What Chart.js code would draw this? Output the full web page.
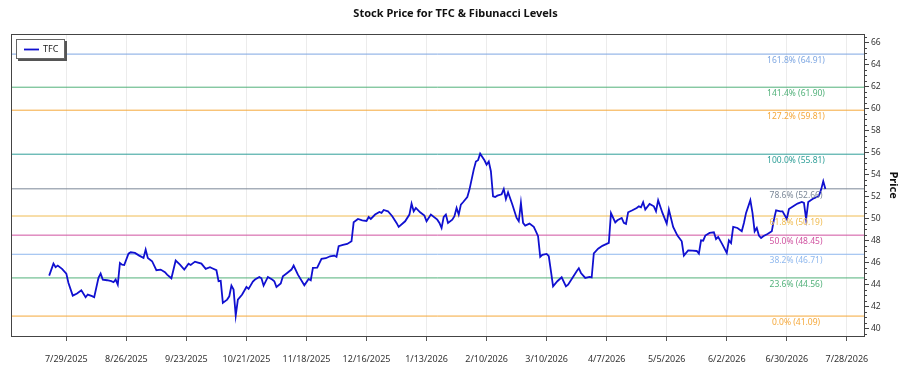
<!DOCTYPE html>
<html>
<head>
<meta charset="utf-8">
<script src="https://cdn.jsdelivr.net/npm/chart.js@4.4.1/dist/chart.umd.min.js"></script>
<style>
  html, body { margin: 0; padding: 0; background: #fff; }
  #wrap { width: 900px; height: 375px; }
</style>
</head>
<body>
<div id="wrap"><canvas id="chart" width="900" height="375"></canvas></div>
<script>
// Days counted from 7/29/2025, and TFC closing prices
const days = [
  -8, -6, -5, -4, -2, 0, 1, 3, 5, 7, 9, 10, 12, 13, 15, 16, 17, 19, 21, 22,
  23, 24, 25, 26, 27, 29, 30, 32, 34, 36, 37, 38, 40, 42, 44, 46, 47, 49, 51, 53,
  55, 57, 58, 60, 61, 63, 65, 67, 68, 70, 71, 72, 73, 75, 76, 77, 78, 79, 80, 82,
  84, 85, 87, 88, 90, 91, 92, 94, 96, 97, 98, 100, 101, 103, 105, 106, 108, 111, 113, 114,
  115, 117, 119, 121, 123, 125, 126, 127, 129, 131, 133, 134, 136, 138, 140, 141, 142, 144, 146, 147,
  148, 150, 152, 154, 155, 158, 160, 161, 162, 163, 165, 167, 168, 170, 173, 174, 175, 176, 177, 178,
  180, 181, 182, 183, 184, 185, 187, 188, 190, 191, 192, 193, 194, 195, 196, 197, 198, 199, 200, 201,
  203, 204, 205, 206, 208, 210, 211, 212, 213, 214, 216, 218, 219, 220, 221, 222, 224, 225, 226, 227,
  229, 231, 233, 234, 236, 238, 239, 240, 242, 244, 245, 246, 248, 250, 253, 254, 256, 257, 259, 260,
  261, 262, 264, 266, 267, 268, 269, 270, 272, 274, 275, 276, 278, 280, 281, 283, 285, 287, 288, 290,
  292, 294, 295, 296, 297, 298, 300, 302, 303, 304, 306, 308, 309, 310, 311, 313, 315, 316, 317, 319,
  320, 321, 322, 323, 324, 325, 327, 329, 330, 331, 333, 334, 336, 337, 339, 341, 343, 344, 345, 346,
  348, 350, 351, 352, 353, 354
];
const prices = [
  44.77, 45.86, 45.53, 45.68, 45.38, 44.95, 44.10, 42.95, 43.14, 43.44, 42.80, 43.05, 42.90, 42.80, 44.56, 44.95, 44.41, 44.35, 44.26, 44.17,
  44.41, 43.95, 45.92, 45.77, 45.74, 46.77, 46.89, 46.83, 46.59, 46.38, 47.14, 46.38, 46.08, 45.26, 45.32, 45.08, 44.86, 44.53, 46.14, 45.77,
  45.32, 45.86, 45.74, 46.04, 45.98, 45.86, 45.38, 45.53, 45.44, 45.26, 44.26, 44.29, 42.29, 42.59, 42.89, 43.86, 43.50, 41.14, 42.59, 43.05,
  43.74, 43.56, 44.23, 44.41, 44.65, 44.53, 43.86, 44.65, 44.41, 44.26, 43.74, 44.05, 44.71, 45.01, 45.32, 45.68, 44.86, 43.89, 44.47, 44.35,
  45.47, 45.50, 46.29, 46.35, 46.53, 46.59, 46.47, 47.44, 47.56, 47.65, 47.89, 49.62, 49.92, 49.80, 49.74, 50.10, 49.92, 50.32, 50.56, 50.47,
  50.74, 50.62, 50.17, 49.56, 49.20, 49.71, 50.32, 51.32, 50.62, 50.92, 50.53, 50.23, 49.71, 50.32, 49.86, 49.56, 49.10, 50.11, 50.32, 49.56,
  49.86, 50.17, 50.92, 50.32, 51.23, 51.44, 51.92, 52.59, 54.41, 55.14, 55.26, 55.86, 55.56, 55.26, 54.86, 55.14, 54.26, 51.98, 51.92, 52.04,
  52.17, 52.65, 51.74, 52.35, 51.23, 50.01, 49.71, 51.38, 49.56, 49.32, 49.50, 49.20, 48.80, 48.35, 46.47, 46.65, 46.74, 46.53, 45.17, 43.80,
  44.26, 44.62, 43.80, 43.95, 44.56, 45.17, 45.44, 45.01, 44.56, 44.65, 44.60, 46.80, 47.22, 47.48, 47.75, 50.45, 49.60, 49.80, 50.01, 49.56,
  49.47, 50.53, 50.71, 50.92, 51.07, 50.98, 51.44, 50.77, 51.29, 51.07, 50.62, 51.62, 50.47, 49.50, 50.77, 49.20, 48.41, 47.89, 46.59, 47.07,
  47.04, 47.01, 46.77, 47.98, 47.95, 48.41, 48.65, 48.71, 48.10, 48.29, 47.59, 46.83, 47.98, 47.74, 49.20, 49.10, 48.80, 49.56, 50.47, 51.62,
  50.47, 48.80, 49.10, 48.41, 48.19, 48.35, 48.56, 48.80, 49.86, 50.71, 50.62, 50.62, 49.92, 50.83, 51.07, 51.32, 51.47, 51.38, 49.90, 51.47,
  51.74, 51.92, 52.04, 52.59, 53.35, 52.65
];

// Fibonacci levels
const fibPercents = ['0.0%', '23.6%', '38.2%', '50.0%', '61.8%', '78.6%', '100.0%', '127.2%', '141.4%', '161.8%'];
const fibValues = [41.09, 44.56, 46.71, 48.45, 50.19, 52.66, 55.81, 59.81, 61.90, 64.91];
const fibColors = ['#f5a83a', '#52b17a', '#8fb8ee', '#d052a0', '#f0bc52', '#7c8898', '#2f9f98', '#f5a83a', '#52b17a', '#7ea7e2'];

// Tick dates: every 4 weeks starting 7/29/2025
const tickDays = [0, 28, 56, 84, 112, 140, 168, 196, 224, 252, 280, 308, 336, 364];
const yTicks = [40, 42, 44, 46, 48, 50, 52, 54, 56, 58, 60, 62, 64, 66];

const baseDate = Date.UTC(2025, 6, 29);
const xMin = -25.8, xMax = 372;
const yMin = 39.28, yMax = 66.72;

function dayLabel(d) {
  const dt = new Date(baseDate + d * 86400000);
  return (dt.getUTCMonth() + 1) + '/' + dt.getUTCDate() + '/' + dt.getUTCFullYear();
}

const FONT = '"Noto Sans", "DejaVu Sans", sans-serif';

const datasets = [{
  label: 'TFC',
  data: days.map((d, i) => ({ x: d, y: prices[i] })),
  borderColor: '#1010d0',
  borderWidth: 1.8,
  pointRadius: 0,
  tension: 0,
  order: 0
}];
fibValues.forEach((v, i) => {
  datasets.push({
    label: fibPercents[i],
    fib: true,
    data: [{ x: xMin, y: v }, { x: xMax, y: v }],
    borderColor: fibColors[i],
    borderWidth: 1,
    pointRadius: 0,
    order: 1
  });
});

// frame, minor ticks, fib labels and legend
const decorations = {
  id: 'decorations',
  afterDatasetsDraw(chart) {
    const { ctx, chartArea: a, scales } = chart;
    const y = scales.y;
    ctx.save();
    // fib labels
    ctx.font = '8.5px ' + FONT;
    ctx.textAlign = 'center';
    ctx.textBaseline = 'middle';
    chart.data.datasets.forEach((ds, i) => {
      if (!ds.fib) return;
      const py = y.getPixelForValue(ds.data[0].y);
      ctx.fillStyle = ds.borderColor;
      ctx.fillText(ds.label + ' (' + ds.data[0].y.toFixed(2) + ')', a.right - 68, py + 6.5);
    });
    // frame
    ctx.strokeStyle = '#444';
    ctx.lineWidth = 1;
    ctx.strokeRect(Math.round(a.left) + 0.5, Math.round(a.top) + 0.5,
      Math.round(a.right - a.left), Math.round(a.bottom - a.top));
    // minor y ticks
    ctx.beginPath();
    for (let v = 39.5; v <= yMax; v += 0.5) {
      const py = Math.round(y.getPixelForValue(v)) + 0.5;
      ctx.moveTo(a.right, py);
      ctx.lineTo(a.right + 3, py);
    }
    ctx.stroke();
    // legend
    const lx = 16, ly = 39, lw = 49, lh = 20;
    ctx.fillStyle = '#555';
    ctx.fillRect(lx + 2, ly + 2, lw, lh);
    ctx.fillStyle = '#fff';
    ctx.fillRect(lx, ly, lw, lh);
    ctx.strokeStyle = '#666';
    ctx.strokeRect(lx + 0.5, ly + 0.5, lw - 1, lh - 1);
    ctx.strokeStyle = '#1010d0';
    ctx.lineWidth = 1.8;
    ctx.beginPath();
    ctx.moveTo(24, ly + 10.5);
    ctx.lineTo(39, ly + 10.5);
    ctx.stroke();
    ctx.fillStyle = '#222';
    ctx.font = '9px ' + FONT;
    ctx.textAlign = 'left';
    ctx.fillText(chart.data.datasets[0].label, 43, ly + 10);
    ctx.restore();
  }
};

new Chart(document.getElementById('chart'), {
  type: 'line',
  data: { datasets },
  options: {
    responsive: false,
    animation: false,
    layout: { padding: { left: 11, right: 0, top: 0, bottom: 0 } },
    plugins: {
      legend: { display: false },
      tooltip: { enabled: false },
      title: {
        display: true,
        text: 'Stock Price for TFC & Fibunacci Levels',
        color: '#111',
        font: { family: FONT, size: 11, weight: 'bold' },
        padding: { top: 7, bottom: 14 }
      }
    },
    scales: {
      x: {
        type: 'linear',
        min: xMin,
        max: xMax,
        afterBuildTicks: (s) => { s.ticks = tickDays.map(v => ({ value: v })); },
        afterFit: (s) => { s.height = 39; },
        ticks: {
          autoSkip: false,
          maxRotation: 0,
          padding: 13,
          color: '#333',
          font: { family: FONT, size: 9 },
          callback: (v) => dayLabel(v)
        },
        grid: { color: '#ececec', tickColor: '#555', tickLength: 5 },
        border: { color: '#444' }
      },
      y: {
        type: 'linear',
        position: 'right',
        min: yMin,
        max: yMax,
        afterBuildTicks: (s) => { s.ticks = yTicks.map(v => ({ value: v })); },
        afterFit: (s) => { s.width = 36; },
        ticks: {
          padding: 2,
          color: '#333',
          font: { family: FONT, size: 8.5 }
        },
        grid: { drawOnChartArea: false, tickColor: '#444', tickLength: 5 },
        border: { color: '#444' },
        title: {
          display: true,
          text: 'Price',
          color: '#111',
          font: { family: FONT, size: 11, weight: 'bold' },
          padding: 0
        }
      }
    }
  },
  plugins: [decorations]
});
</script>
</body>
</html>
